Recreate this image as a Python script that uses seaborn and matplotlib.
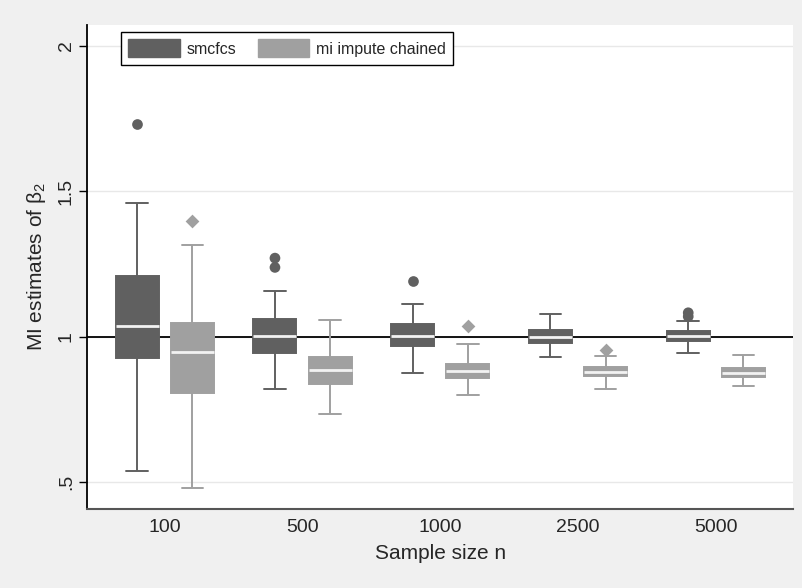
import pandas as pd
import matplotlib.pyplot as plt
import seaborn as sns
from matplotlib.patches import Patch

sizes = ['100', '500', '1000', '2500', '5000']
methods = ['smcfcs', 'mi impute chained']

# box summaries: lower whisker, q1, median, q3, upper whisker
smcfcs_lo = [0.537, 0.821, 0.876, 0.930, 0.943]
smcfcs_q1 = [0.928, 0.942, 0.966, 0.977, 0.985]
smcfcs_med = [1.037, 1.002, 1.001, 0.999, 1.001]
smcfcs_q3 = [1.207, 1.062, 1.044, 1.023, 1.018]
smcfcs_hi = [1.460, 1.157, 1.113, 1.079, 1.053]

mi_lo = [0.480, 0.735, 0.800, 0.821, 0.829]
mi_q1 = [0.805, 0.836, 0.857, 0.864, 0.860]
mi_med = [0.946, 0.884, 0.881, 0.879, 0.875]
mi_q3 = [1.046, 0.929, 0.906, 0.897, 0.892]
mi_hi = [1.315, 1.058, 0.976, 0.934, 0.935]

# outside values
smcfcs_out_size = ['100', '500', '500', '1000', '5000', '5000']
smcfcs_out_val = [1.730, 1.270, 1.238, 1.190, 1.082, 1.069]
mi_out_size = ['100', '1000', '2500']
mi_out_val = [1.399, 1.038, 0.955]

palette = {'smcfcs': '#606060', 'mi impute chained': '#a0a0a0'}

# long table for the boxes (5 values per box reproduce the summary exactly)
rows = []
summaries = {
    'smcfcs': (smcfcs_lo, smcfcs_q1, smcfcs_med, smcfcs_q3, smcfcs_hi),
    'mi impute chained': (mi_lo, mi_q1, mi_med, mi_q3, mi_hi),
}
for m, stats in summaries.items():
    for i, s in enumerate(sizes):
        for arr in stats:
            rows.append({'method': m, 'size': s, 'value': arr[i]})
box_df = pd.DataFrame(rows)

out_df = pd.concat([
    pd.DataFrame({'method': 'smcfcs', 'size': smcfcs_out_size, 'value': smcfcs_out_val}),
    pd.DataFrame({'method': 'mi impute chained', 'size': mi_out_size, 'value': mi_out_val}),
])

sns.set_style('white')
plt.rcParams['font.family'] = ['Liberation Sans', 'DejaVu Sans']
plt.rcParams['mathtext.fontset'] = 'custom'
plt.rcParams['mathtext.rm'] = 'Liberation Sans'
plt.rcParams['mathtext.it'] = 'Liberation Sans:italic'

fig = plt.figure(figsize=(8.02, 5.88), dpi=100, facecolor='#f0f0f0')
ax = fig.add_axes([0.1089, 0.1344, 0.8803, 0.8231])
ax.set_facecolor('white')

ax.axhline(1, color='black', lw=1.3, zorder=0.9)

for m in methods:
    sns.boxplot(data=box_df[box_df['method'] == m], x='size', y='value',
                hue='method', hue_order=methods, order=sizes, palette=palette,
                saturation=1, dodge=True, width=0.8, gap=0.22, whis=(0, 100),
                showfliers=False, linecolor=palette[m], linewidth=1.4,
                medianprops=dict(color='#f2f2f2', linewidth=2),
                legend=False, ax=ax)

markers = {'smcfcs': ('o', 7.7), 'mi impute chained': ('D', 7)}
for m in methods:
    mk, sz = markers[m]
    sns.stripplot(data=out_df[out_df['method'] == m], x='size', y='value',
                  hue='method', hue_order=methods, order=sizes, palette=palette,
                  dodge=True, jitter=False, marker=mk, size=sz, linewidth=0,
                  legend=False, ax=ax)

ax.set_xlim(-0.562, 4.563)
ax.set_ylim(0.407, 2.072)
ax.set_yticks([0.5, 1, 1.5, 2])
ax.set_yticklabels(['.5', '1', '1.5', '2'], rotation=90, va='center')
ax.tick_params(axis='y', length=6, width=1, direction='out', labelsize=14,
               pad=3, left=True, color='black')
ax.tick_params(axis='x', length=0, labelsize=14, pad=7)

ax.yaxis.grid(True, color='#e8e8e8', lw=1)
ax.set_axisbelow(True)

for side in ['top', 'right']:
    ax.spines[side].set_visible(False)
ax.spines['left'].set_color('black')
ax.spines['left'].set_linewidth(1.3)
ax.spines['bottom'].set_color('#555555')
ax.spines['bottom'].set_linewidth(1.5)

ax.set_xlabel('Sample size n', fontsize=15, labelpad=6)
ax.set_ylabel(r'MI estimates of $\mathregular{\beta_2}$', fontsize=15, labelpad=7)

handles = [Patch(facecolor=palette[m], edgecolor=palette[m], label=m) for m in methods]
leg = ax.legend(handles=handles, loc='upper center', bbox_to_anchor=(0.283, 0.985),
                ncol=2, frameon=True, fancybox=False, edgecolor='black',
                fontsize=11.5, handlelength=3.2, handleheight=1.35, columnspacing=1.35,
                borderpad=0.45, handletextpad=0.44, borderaxespad=0)
leg.get_frame().set_linewidth(1.0)
leg.get_frame().set_alpha(1)

fig.savefig('out.png', dpi=100, facecolor=fig.get_facecolor())
